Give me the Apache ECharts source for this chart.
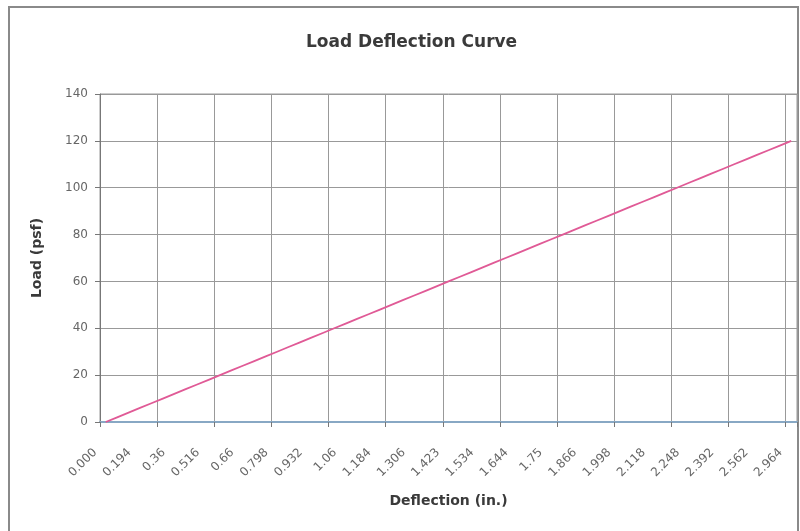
<!DOCTYPE html>
<html>
<head>
<meta charset="utf-8">
<script src="https://cdn.jsdelivr.net/npm/echarts@6/dist/echarts.min.js"></script>
<style>
html,body{margin:0;padding:0;background:#fff;}
#c{width:800px;height:531px;}
</style>
</head>
<body>
<div id="c"></div>
<script>
// Deflection (in.) tick labels shown on the category axis (every 3rd point)
const deflectionLabels = ['0.000','0.194','0.36','0.516','0.66','0.798','0.932','1.06','1.184','1.306','1.423','1.534','1.644','1.75','1.866','1.998','2.118','2.248','2.392','2.562','2.964'];
// Load (psf) values, one per category
const loadValues = [0,2,4,6,8,10,12,14,16,18,20,22,24,26,28,30,32,34,36,38,40,42,44,46,48,50,52,54,56,58,60,62,64,66,68,70,72,74,76,78,80,82,84,86,88,90,92,94,96,98,100,102,104,106,108,110,112,114,116,118,120];
// Y axis ticks
const yMin = 0, yMax = 140, yStep = 20;

const categories = loadValues.map((v, i) => (i % 3 === 0 ? deflectionLabels[i / 3] : ''));
const FONT = 'DejaVu Sans, Verdana, sans-serif';

const chart = echarts.init(document.getElementById('c'));
chart.setOption({
  backgroundColor: '#fff',
  animation: false,
  textStyle: { fontFamily: FONT },
  title: {
    text: 'Load Deflection Curve',
    left: 301,
    top: 29,
    textStyle: { fontSize: 17, fontWeight: 'bold', color: '#3a3a3a', fontFamily: FONT }
  },
  graphic: [{
    type: 'rect',
    shape: { x: 9, y: 7, width: 789, height: 530 },
    style: { fill: 'none', stroke: '#8a8a8a', lineWidth: 2 },
    silent: true
  }],
  grid: {
    left: 100, right: 3, top: 94, bottom: 109,
    show: true, borderColor: '#999', borderWidth: 1, backgroundColor: 'transparent'
  },
  xAxis: {
    type: 'category',
    data: categories,
    boundaryGap: true,
    name: 'Deflection (in.)',
    nameLocation: 'middle',
    nameGap: 72,
    nameTextStyle: { fontSize: 14, fontWeight: 'bold', color: '#3a3a3a', fontFamily: FONT },
    axisLine: { show: true, lineStyle: { color: '#88a8c4', width: 2 } },
    axisTick: { show: true, interval: 4, length: 5, lineStyle: { color: '#777' } },
    splitLine: { show: true, interval: 4, lineStyle: { color: '#999', width: 1 } },
    axisLabel: { interval: 2, rotate: 45, fontSize: 12, color: '#666', margin: 18, padding: [0, 15, 0, 0], fontFamily: FONT }
  },
  yAxis: {
    type: 'value',
    min: yMin, max: yMax, interval: yStep,
    name: 'Load (psf)',
    nameLocation: 'middle',
    nameGap: 56,
    nameTextStyle: { fontSize: 14, fontWeight: 'bold', color: '#3a3a3a', fontFamily: FONT },
    axisLine: { show: true, lineStyle: { color: '#777', width: 1 } },
    axisTick: { show: true, length: 5, lineStyle: { color: '#777' } },
    splitLine: { show: true, lineStyle: { color: '#999', width: 1 } },
    axisLabel: { fontSize: 12, color: '#666', margin: 12, fontFamily: FONT }
  },
  series: [{
    type: 'line',
    data: loadValues,
    showSymbol: false,
    symbol: 'none',
    lineStyle: { color: '#e05a96', width: 1.8 },
    z: 3
  }]
});
</script>
</body>
</html>
